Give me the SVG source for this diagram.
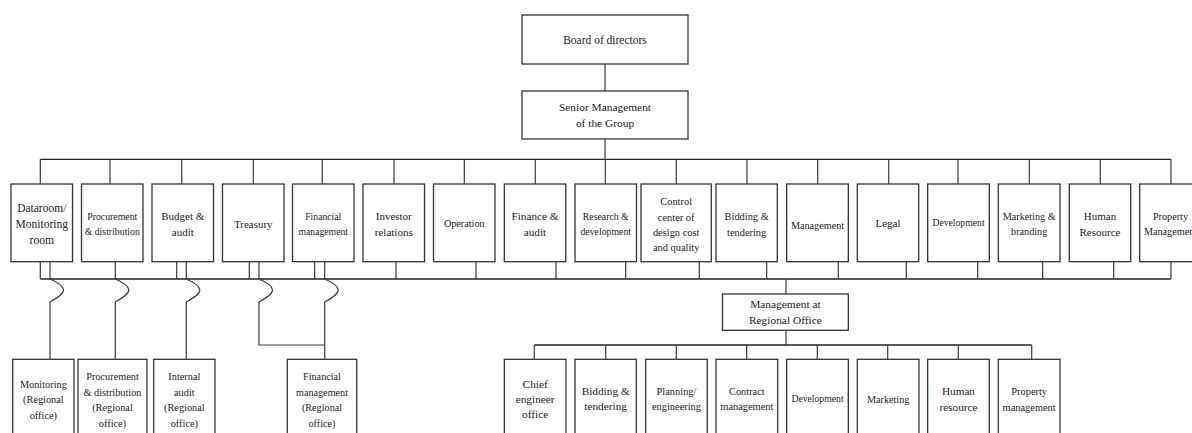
<svg xmlns="http://www.w3.org/2000/svg" width="1192" height="433" viewBox="0 0 1192 433">
<style>
rect{fill:#fff;stroke:#333;stroke-width:1.3}
text{font-family:"Liberation Serif","Times New Roman",serif;fill:#222;text-anchor:middle}
.ln{fill:none;stroke:#3a3a3a;stroke-width:1.2}
.bus{fill:none;stroke:#222;stroke-width:1.3}
</style>
<rect x="0" y="0" width="1192" height="433" style="stroke:none"/>
<g id="connectors">
<path class="ln" d="M605,64 V91 M605,139 V159.3"/>
<path class="bus" d="M40.3,159.3 H1171"/>
<path class="ln" d="M40.3,159.3V184 M110,159.3V184 M181.7,159.3V184 M253.3,159.3V184 M322.3,159.3V184 M394,159.3V184 M464.3,159.3V184 M535.3,159.3V184 M605.3,159.3V184 M676.3,159.3V184 M747,159.3V184 M817.7,159.3V184 M888.7,159.3V184 M958,159.3V184 M1029.3,159.3V184 M1100.3,159.3V184 M1171,159.3V184"/>
<path class="bus" d="M40.3,279 H1171"/>
<path class="ln" d="M40.3,261.7V279 M176.7,261.7V279 M249.3,261.7V279 M314.7,261.7V279 M396,261.7V279 M476,261.7V279 M556,261.7V279 M625.7,261.7V279 M699.3,261.7V279 M766.7,261.7V279 M838.3,261.7V279 M906.3,261.7V279 M977.7,261.7V279 M1042.7,261.7V279 M1113.7,261.7V279 M1171,261.7V279"/>
<path class="ln" d="M50,261.7 V279 C57,282 63.5,285.5 63.5,290 C63.5,294.5 56,298.5 50,302 V359.3"/>
<path class="ln" d="M115.3,261.7 V279 C122.3,282 128.8,285.5 128.8,290 C128.8,294.5 121.3,298.5 115.3,302 V359.3"/>
<path class="ln" d="M186.3,261.7 V279 C193.3,282 199.8,285.5 199.8,290 C199.8,294.5 192.3,298.5 186.3,302 V359.3"/>
<path class="ln" d="M259,261.7 V279 C266,282 272.5,285.5 272.5,290 C272.5,294.5 265,298.5 259,302 V345 H324.7"/>
<path class="ln" d="M324.7,261.7 V279 C331.7,282 338.2,285.5 338.2,290 C338.2,294.5 330.7,298.5 324.7,302 V359.3"/>
<path class="ln" d="M786,279 V294 M786,330.3 V345"/>
<path class="bus" d="M534.3,345 H1031.7"/>
<path class="ln" d="M534.3,345V359.3 M605.7,345V359.3 M676.3,345V359.3 M746.7,345V359.3 M817.3,345V359.3 M887.7,345V359.3 M958.3,345V359.3 M1031.7,345V359.3"/>
</g>
<g id="board"><rect x="522" y="15" width="166" height="49"/><text x="605" y="44" font-size="11.5">Board of directors</text></g>
<g id="senior"><rect x="522" y="91" width="166" height="48"/><text font-size="11.4"><tspan x="605" y="111">Senior Management</tspan><tspan x="605" y="126.5">of the Group</tspan></text></g>

<g id="dataroom"><rect x="11" y="184" width="61.5" height="77.7"/><text font-size="11.5"><tspan x="41.75" y="211.5">Dataroom/</tspan><tspan x="41.75" y="227.5">Monitoring</tspan><tspan x="41.75" y="243.5">room</tspan></text></g>
<g id="procurement"><rect x="81.5" y="184" width="61.5" height="77.7"/><text font-size="9.8"><tspan x="112.25" y="219.5">Procurement</tspan><tspan x="112.25" y="235.3">&amp; distribution</tspan></text></g>
<g id="budget"><rect x="152" y="184" width="61.5" height="77.7"/><text font-size="11"><tspan x="182.75" y="219.8">Budget &amp;</tspan><tspan x="182.75" y="235.5">audit</tspan></text></g>
<g id="treasury"><rect x="222.5" y="184" width="61.5" height="77.7"/><text x="253.25" y="227.8" font-size="11">Treasury</text></g>
<g id="financial"><rect x="292.5" y="184" width="61.5" height="77.7"/><text font-size="9.7"><tspan x="323.25" y="219.5">Financial</tspan><tspan x="323.25" y="235.3">management</tspan></text></g>
<g id="investor"><rect x="363" y="184" width="61.5" height="77.7"/><text font-size="11"><tspan x="393.75" y="219.8">Investor</tspan><tspan x="393.75" y="235.5">relations</tspan></text></g>
<g id="operation"><rect x="433.5" y="184" width="61.5" height="77.7"/><text x="464.25" y="227" font-size="10.2">Operation</text></g>
<g id="finance"><rect x="504.3" y="184" width="61.5" height="77.7"/><text font-size="11.2"><tspan x="535" y="219.8">Finance &amp;</tspan><tspan x="535" y="235.5">audit</tspan></text></g>
<g id="research"><rect x="575" y="184" width="61.5" height="77.7"/><text font-size="9.8"><tspan x="605.75" y="219.5">Research &amp;</tspan><tspan x="605.75" y="235.3">development</tspan></text></g>
<g id="control"><rect x="641" y="184" width="70.3" height="77.7"/><text font-size="10.4"><tspan x="676.15" y="205.4">Control</tspan><tspan x="676.15" y="220.5">center of</tspan><tspan x="676.15" y="236">design cost</tspan><tspan x="676.15" y="251.4">and quality</tspan></text></g>
<g id="bidding"><rect x="716" y="184" width="61.3" height="77.7"/><text font-size="10.4"><tspan x="746.65" y="220.2">Bidding &amp;</tspan><tspan x="746.65" y="235.5">tendering</tspan></text></g>
<g id="management"><rect x="786.7" y="184" width="61.6" height="77.7"/><text x="817.5" y="229" font-size="10.2">Management</text></g>
<g id="legal"><rect x="857.3" y="184" width="61.4" height="77.7"/><text x="888" y="226.5" font-size="11">Legal</text></g>
<g id="development"><rect x="927.7" y="184" width="61.6" height="77.7"/><text x="958.5" y="226.2" font-size="9.7">Development</text></g>
<g id="marketing"><rect x="998.3" y="184" width="61.7" height="77.7"/><text font-size="10.2"><tspan x="1029.15" y="219.6">Marketing &amp;</tspan><tspan x="1029.15" y="235.4">branding</tspan></text></g>
<g id="hr"><rect x="1069.3" y="184" width="61.4" height="77.7"/><text font-size="11"><tspan x="1100" y="219.8">Human</tspan><tspan x="1100" y="235.5">Resource</tspan></text></g>
<g id="property"><rect x="1139.7" y="184" width="61.6" height="77.7"/><text font-size="10.2"><tspan x="1170.5" y="219.6">Property</tspan><tspan x="1170.5" y="235.4">Management</tspan></text></g>

<g id="regional"><rect x="722.5" y="294" width="125.8" height="36.3"/><text font-size="11.4"><tspan x="785.4" y="308.2">Management at</tspan><tspan x="785.4" y="323.9">Regional Office</tspan></text></g>

<g id="monitoring-r"><rect x="12.7" y="359.3" width="61.3" height="80"/><text font-size="10.3"><tspan x="43.35" y="387.7">Monitoring</tspan><tspan x="43.35" y="403">(Regional</tspan><tspan x="43.35" y="418.7">office)</tspan></text></g>
<g id="procurement-r"><rect x="78" y="359.3" width="69" height="80"/><text font-size="10.3"><tspan x="112.5" y="380.4">Procurement</tspan><tspan x="112.5" y="396.4">&amp; distribution</tspan><tspan x="112.5" y="411.4">(Regional</tspan><tspan x="112.5" y="427">office)</tspan></text></g>
<g id="audit-r"><rect x="153.7" y="359.3" width="61.3" height="80"/><text font-size="10.3"><tspan x="184.35" y="380.4">Internal</tspan><tspan x="184.35" y="396.4">audit</tspan><tspan x="184.35" y="411.4">(Regional</tspan><tspan x="184.35" y="427">office)</tspan></text></g>
<g id="financial-r"><rect x="287.3" y="359.3" width="69.4" height="80"/><text font-size="10.2"><tspan x="322" y="380.4">Financial</tspan><tspan x="322" y="396.4">management</tspan><tspan x="322" y="411.4">(Regional</tspan><tspan x="322" y="427">office)</tspan></text></g>

<g id="chief-r"><rect x="504.3" y="359.3" width="61.7" height="80"/><text font-size="11.3"><tspan x="535.15" y="387.8">Chief</tspan><tspan x="535.15" y="403.2">engineer</tspan><tspan x="535.15" y="418.2">office</tspan></text></g>
<g id="bidding-r"><rect x="575" y="359.3" width="61.3" height="80"/><text font-size="11.3"><tspan x="605.65" y="394.5">Bidding &amp;</tspan><tspan x="605.65" y="409.8">tendering</tspan></text></g>
<g id="planning-r"><rect x="645.7" y="359.3" width="61.6" height="80"/><text font-size="10.4"><tspan x="676.5" y="395.4">Planning/</tspan><tspan x="676.5" y="410.4">engineering</tspan></text></g>
<g id="contract-r"><rect x="716" y="359.3" width="61.7" height="80"/><text font-size="10.4"><tspan x="746.85" y="395.4">Contract</tspan><tspan x="746.85" y="410.4">management</tspan></text></g>
<g id="development-r"><rect x="786.7" y="359.3" width="61.6" height="80"/><text x="817.5" y="402.4" font-size="9.7">Development</text></g>
<g id="marketing-r"><rect x="857.3" y="359.3" width="61.7" height="80"/><text x="888.15" y="402.8" font-size="10.2">Marketing</text></g>
<g id="hr-r"><rect x="927.7" y="359.3" width="61.6" height="80"/><text font-size="11.2"><tspan x="958.5" y="394.9">Human</tspan><tspan x="958.5" y="411.2">resource</tspan></text></g>
<g id="property-r"><rect x="998.3" y="359.3" width="61.7" height="80"/><text font-size="10.4"><tspan x="1029.15" y="394.9">Property</tspan><tspan x="1029.15" y="411.2">management</tspan></text></g>
</svg>
